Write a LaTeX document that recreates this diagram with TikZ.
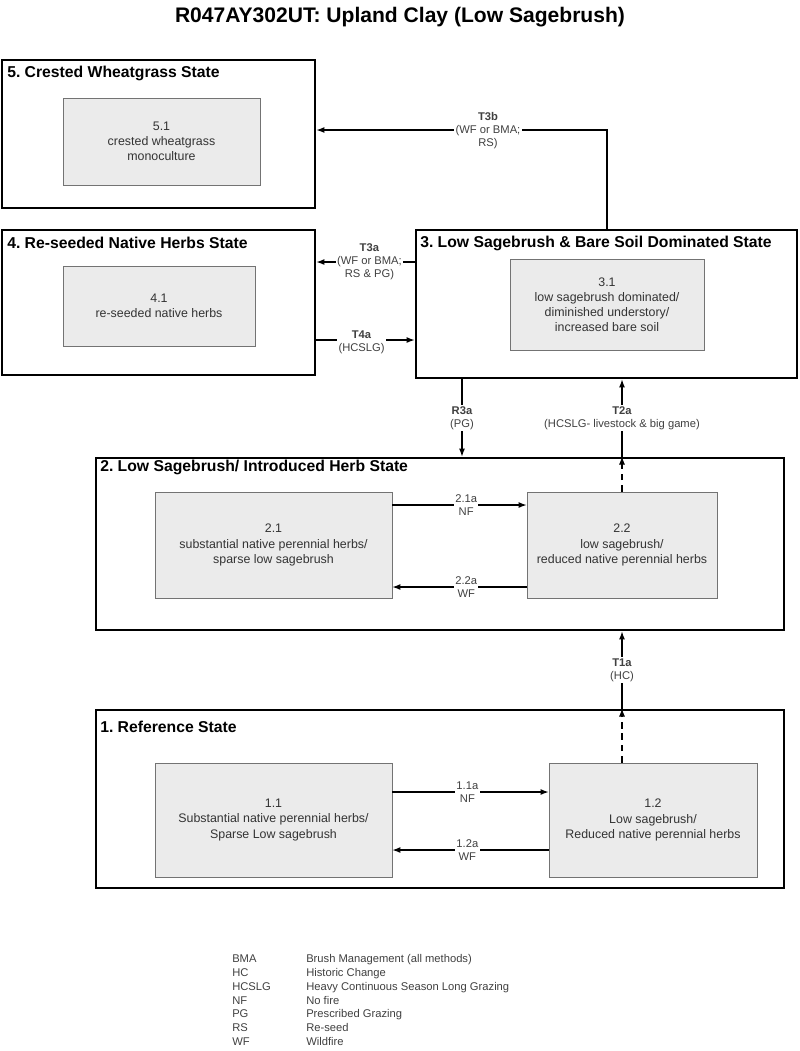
\documentclass[tikz,border=0pt]{standalone}
\usepackage{fontspec}
\setmainfont{Liberation Sans}
\usetikzlibrary{arrows.meta,fit,calc}
\frenchspacing
\begin{document}
\begin{tikzpicture}[x=0.75pt,y=-0.75pt,
  statebox/.style={draw=black, line width=2.2pt, inner sep=0pt},
  inbox/.style={draw=black!55, fill=black!8, line width=0.7pt, inner sep=0pt},
  stitle/.style={anchor=west, font=\bfseries\fontsize{11.8}{13}\selectfont, inner sep=0pt},
  btext/.style={align=center, font=\fontsize{9.3}{11.3}\selectfont, text=black!80},
  tlab/.style={align=center, fill=white, inner sep=1pt, font=\fontsize{8.4}{9.8}\selectfont, text=black!75},
  arr/.style={-{Latex[length=6pt,width=4.5pt]}, line width=0.8pt},
  dsh/.style={dash pattern=on 5pt off 3.5pt},
]
\useasboundingbox (0,0) rectangle (800,1051);
\node[font=\bfseries\fontsize{15.8}{18}\selectfont] (title) at (400,17) {R047AY302UT: Upland Clay (Low Sagebrush)};

% State 5
\node[statebox, fit={(2,60) (315,208)}] (s5) {};
\node[stitle] (s5t) at (7,73) {5. Crested Wheatgrass State};
\node[inbox, fit={(63,98) (260,185)}] (b51) {};
\node[btext] (b51t) at (b51.center) {5.1\\crested wheatgrass\\monoculture};

% State 4
\node[statebox, fit={(2,230) (315,375)}] (s4) {};
\node[stitle] (s4t) at (7,243) {4. Re-seeded Native Herbs State};
\node[inbox, fit={(63,266) (255,346)}] (b41) {};
\node[btext] (b41t) at (b41.center) {4.1\\re-seeded native herbs};

% State 3
\node[statebox, fit={(416,230) (797,378)}] (s3) {};
\node[stitle] (s3t) at (420,243) {3. Low Sagebrush \& Bare Soil Dominated State};
\node[inbox, fit={(510,259) (704,350)}] (b31) {};
\node[btext] (b31t) at (b31.center) {3.1\\low sagebrush dominated/\\diminished understory/\\increased bare soil};

% State 2
\node[statebox, fit={(96,458) (784,630)}] (s2) {};
\node[stitle] (s2t) at (100,467) {2. Low Sagebrush/ Introduced Herb State};
\node[inbox, fit={(155,492) (392,598)}] (b21) {};
\node[btext] (b21t) at (b21.center) {2.1\\substantial native perennial herbs/\\sparse low sagebrush};
\node[inbox, fit={(527,492) (717,598)}] (b22) {};
\node[btext] (b22t) at (b22.center) {2.2\\low sagebrush/\\reduced native perennial herbs};

% State 1
\node[statebox, fit={(96,710) (784,888)}] (s1) {};
\node[stitle] (s1t) at (100,727) {1. Reference State};
\node[inbox, fit={(155,763) (392,877)}] (b11) {};
\node[btext] (b11t) at (b11.center) {1.1\\Substantial native perennial herbs/\\Sparse Low sagebrush};
\node[inbox, fit={(549,763) (757,877)}] (b12) {};
\node[btext] (b12t) at (b12.center) {1.2\\Low sagebrush/\\Reduced native perennial herbs};

% helper coordinates
\coordinate (t3bc) at (607,130);
\coordinate (t3ay) at (0,262);
\coordinate (t4ay) at (0,340);
\coordinate (r3ax) at (462,0);
\coordinate (a21y) at (0,505);
\coordinate (a22y) at (0,587);
\coordinate (a11y) at (0,792);
\coordinate (a12y) at (0,850);
\coordinate (tx) at (622,0);

% T3b
\draw[arr] (s3.north -| t3bc) -- (t3bc) -- (s5.east |- t3bc);
\node[tlab] (t3bl) at (488,131) {\textbf{T3b}\\(WF or BMA;\\RS)};

% T3a / T4a
\draw[arr] (s3.west |- t3ay) -- node[tlab, pos=0.46] (t3al) {\textbf{T3a}\\(WF or BMA;\\RS \& PG)} (s4.east |- t3ay);
\draw[arr] (s4.east |- t4ay) -- node[tlab, pos=0.46, yshift=-2] (t4al) {\textbf{T4a}\\(HCSLG)} (s3.west |- t4ay);

% R3a
\draw[arr] (s3.south -| r3ax) -- node[tlab] (r3al) {\textbf{R3a}\\(PG)} (s2.north -| r3ax);

% T2a
\draw[arr, dsh] (b22.north -| tx) -- (s2.north -| tx);
\draw[arr] (s2.north -| tx) -- node[tlab] (t2al) {\textbf{T2a}\\(HCSLG- livestock \& big game)} (s3.south -| tx);

% T1a
\draw[arr, dsh] (b12.north -| tx) -- (s1.north -| tx);
\draw[arr] (s1.north -| tx) -- node[tlab] (t1al) {\textbf{T1a}\\(HC)} (s2.south -| tx);

% within state 2
\draw[arr] (b21.east |- a21y) -- node[tlab, pos=0.55] (a21l) {2.1a\\NF} (b22.west |- a21y);
\draw[arr] (b22.west |- a22y) -- node[tlab, pos=0.45] (a22l) {2.2a\\WF} (b21.east |- a22y);

% within state 1
\draw[arr] (b11.east |- a11y) -- node[tlab, pos=0.48] (a11l) {1.1a\\NF} (b12.west |- a11y);
\draw[arr] (b12.west |- a12y) -- node[tlab, pos=0.52] (a12l) {1.2a\\WF} (b11.east |- a12y);

% legend
\node[anchor=north west, inner sep=0pt, text=black!75, font=\fontsize{8.4}{10.3}\selectfont] (legend) at (232,953) {%
\begin{tabular}{@{}p{55.5pt}@{}l@{}}
BMA & Brush Management (all methods)\\
HC & Historic Change\\
HCSLG & Heavy Continuous Season Long Grazing\\
NF & No fire\\
PG & Prescribed Grazing\\
RS & Re-seed\\
WF & Wildfire
\end{tabular}};
\end{tikzpicture}
\end{document}
